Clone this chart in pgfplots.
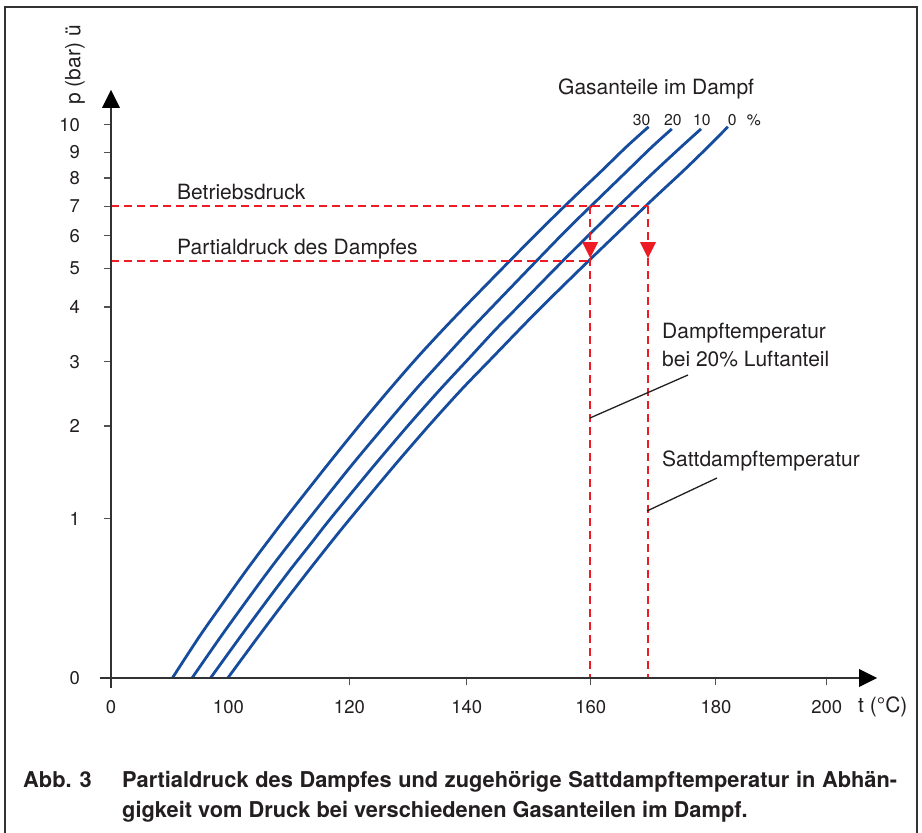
\documentclass[border=0pt]{standalone}
\usepackage{fontspec}
\setmainfont{TeX Gyre Heros}
\usepackage{pgfplots}
\pgfplotsset{compat=1.18}
\definecolor{curveblue}{RGB}{22,76,158}
\definecolor{dashred}{RGB}{237,28,36}
\definecolor{axgray}{RGB}{50,50,50}
\definecolor{txt}{RGB}{35,31,32}
\newcommand{\lab}{\fontsize{21}{28}\selectfont}
\newcommand{\tck}{\fontsize{18.5}{22}\selectfont}
\begin{document}
\begin{tikzpicture}[x=1pt,y=1pt]
\useasboundingbox (0,0) rectangle (922,833);
\fill[white] (0,0) rectangle (922,833);
\draw[axgray, line width=1.2pt] (5,-5) -- (5,826) -- (917,826) -- (917,-5);

\begin{axis}[
  at={(111pt,155pt)}, anchor=south west,
  scale only axis, width=721.16pt, height=553.3pt,
  xmin=80, xmax=201, ymin=1, ymax=11, ymode=log,
  axis lines=left, axis line style={draw=none},
  clip=false,
  xtick={80,120,139.7,160.5,181.5,200.1},
  xticklabels={0,120,140,160,180,200},
  extra x ticks={99.7}, extra x tick labels={100},
  extra x tick style={tick style={draw=none}},
  ytick={1,1.994,2.981,3.939,4.992,5.904,6.80,7.73,8.73,9.77,11.0},
  yticklabels={0,1,2,3,4,5,6,7,8,9,10},
  minor ytick={}, minor xtick={},
  tick align=outside, major tick length=7.5pt,
  tick style={draw=axgray!85, line width=1.1pt},
  /pgf/number format/assume math mode=true,
  xticklabel style={font=\tck, text=txt, yshift=-11pt},
  yticklabel style={font=\tck, text=txt, anchor=east, xshift=-20pt},
]
% 0 % gas
\addplot[curveblue, line width=2.8pt, smooth] coordinates {
(99.6,1.0) (104.8,1.2) (109.3,1.4) (113.3,1.6) (116.9,1.8) (120.2,2.0)
(127.4,2.5) (133.5,3.0) (138.9,3.5) (143.9,4.0) (148.3,4.5) (152.3,5.0)
(159.5,6.0) (165.7,7.0) (171.1,8.0) (176.0,9.0) (180.2,10.0) (183.5,10.9)};
% 10 % gas
\addplot[curveblue, line width=2.8pt, smooth] coordinates {
(96.7,1.0) (101.8,1.2) (106.2,1.4) (110.1,1.6) (113.7,1.8) (116.9,2.0)
(124.0,2.5) (130.0,3.0) (135.3,3.5) (140.1,4.0) (144.3,4.5) (148.3,5.0)
(155.2,6.0) (161.2,7.0) (166.5,8.0) (171.3,9.0) (175.7,10.0) (179.0,10.8)};
% 20 % gas
\addplot[curveblue, line width=2.8pt, smooth] coordinates {
(93.6,1.0) (98.5,1.2) (102.8,1.4) (106.6,1.6) (110.1,1.8) (113.3,2.0)
(120.2,2.5) (126.1,3.0) (131.2,3.5) (135.9,4.0) (140.1,4.5) (144.0,5.0)
(150.8,6.0) (156.6,7.0) (161.9,8.0) (166.6,9.0) (170.8,10.0) (174.1,10.8)};
% 30 % gas
\addplot[curveblue, line width=2.8pt, smooth] coordinates {
(90.3,1.0) (94.9,1.2) (99.1,1.4) (102.8,1.6) (106.2,1.8) (109.3,2.0)
(116.1,2.5) (121.8,3.0) (126.8,3.5) (131.3,4.0) (135.5,4.5) (139.4,5.0)
(146.3,6.0) (152.2,7.0) (157.5,8.0) (162.3,9.0) (166.5,10.0) (170.2,10.9)};
% red dashed guide lines
\addplot[dashred, line width=1.6pt, dash pattern=on 8pt off 5pt] coordinates {(80,7.73) (170.1,7.73)};
\addplot[dashred, line width=1.6pt, dash pattern=on 8pt off 5pt] coordinates {(80,6.095) (160.4,6.095)};
\addplot[dashred, line width=1.6pt, dash pattern=on 8pt off 5pt] coordinates {(160.4,7.73) (160.4,1)};
\addplot[dashred, line width=1.6pt, dash pattern=on 8pt off 5pt] coordinates {(170.1,7.73) (170.1,1)};
% arrow heads
\addplot[fill=dashred, draw=none] coordinates {(159.06,6.615) (161.74,6.615) (160.4,6.17)} -- cycle;
\addplot[fill=dashred, draw=none] coordinates {(168.76,6.615) (171.44,6.615) (170.1,6.17)} -- cycle;
\end{axis}

% axes with arrows
\draw[axgray, line width=1.4pt] (100,155) -- (862,155);
\fill[black] (877,155) -- (859,164) -- (859,146) -- cycle;
\draw[axgray, line width=1.4pt] (111,145) -- (111,727);
\fill[black] (111,743) -- (102,725) -- (120,725) -- cycle;

% axis titles
\node[rotate=90, font=\lab, text=txt, inner sep=0] at (75,768) {p (bar) ü};
\node[anchor=base west, font=\lab, text=txt, inner sep=0] at (858,120) {t (°C)};

% legend of gas fractions
\node[anchor=base west, font=\lab, text=txt, inner sep=0] at (558,738.7) {Gasanteile im Dampf};
\begin{scope}[every node/.style={anchor=base west, font=\fontsize{15.7}{18}\selectfont, text=txt, inner sep=0}]
\node at (632.7,707.3) {30};
\node at (664,707.3) {20};
\node at (693,707.3) {10};
\node at (727.7,707.3) {0};
\node at (746.7,707.3) {\%};
\end{scope}

% annotations
\begin{scope}[every node/.style={anchor=base west, font=\lab, text=txt, inner sep=0}]
\node at (177,633) {Betriebsdruck};
\node at (177,578) {Partialdruck des Dampfes};
\node at (662,494) {Dampftemperatur};
\node at (662,466.3) {bei 20\% Luftanteil};
\node at (662,366.3) {Sattdampftemperatur};
\end{scope}
\draw[txt, line width=1.3pt] (590,415) -- (688,458);
\draw[txt, line width=1.3pt] (647,322) -- (717,355);

% caption
\node[anchor=base west, inner sep=0, text=txt, font=\fontsize{21.8}{30}\selectfont\bfseries] at (23,45) {Abb. 3};
\node[anchor=base west, inner sep=0, text=txt, text width=775pt, align=justify,
      font=\fontsize{21.8}{30}\selectfont\bfseries] at (122,45)
  {Partialdruck des Dampfes und zugehörige Sattdampftemperatur in Abhän-\linebreak gigkeit vom Druck bei verschiedenen Gasanteilen im Dampf.};
\end{tikzpicture}
\end{document}
